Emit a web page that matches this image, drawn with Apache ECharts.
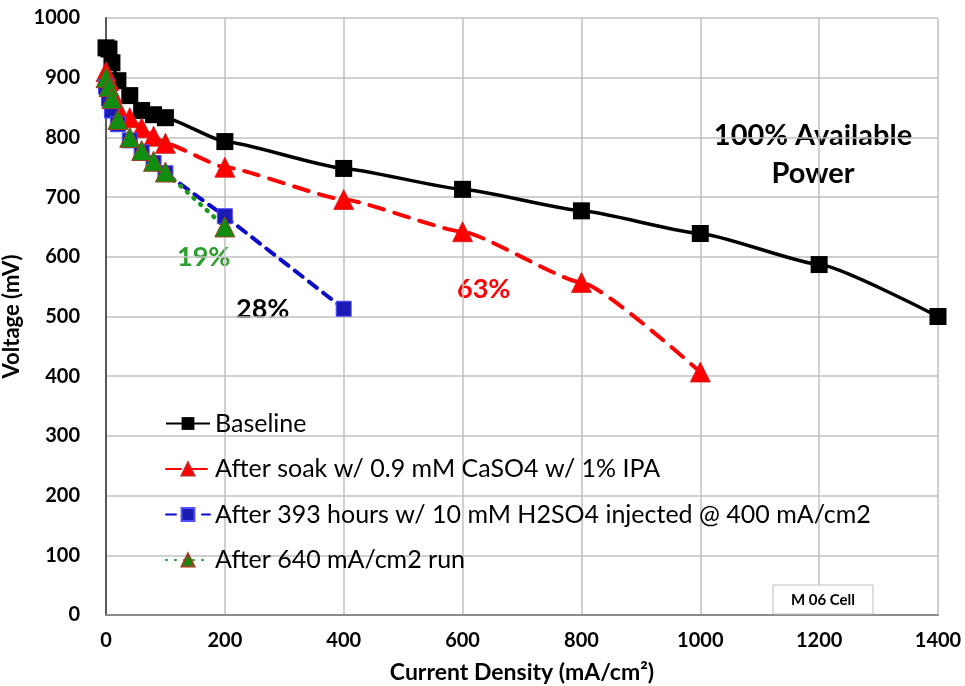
<!DOCTYPE html>
<html>
<head>
<meta charset="utf-8">
<script src="https://cdn.jsdelivr.net/npm/echarts@6/dist/echarts.min.js"></script>
<style>
html,body{margin:0;padding:0;background:#fff;}
#chart{width:965px;height:686px;}
</style>
</head>
<body>
<div id="chart"></div>
<script>
// ---- data ----
const seriesNames = [
  'Baseline',
  'After soak w/ 0.9 mM CaSO4 w/ 1% IPA',
  'After 393 hours w/ 10 mM H2SO4 injected @ 400 mA/cm2',
  'After 640 mA/cm2 run'
];
const baselineX = [0, 5, 10, 20, 40, 60, 80, 100, 200, 400, 600, 800, 1000, 1200, 1400];
const baselineY = [950, 948, 925, 895, 870, 845, 838, 833, 793, 748, 713, 677, 639, 587, 500];
const soakX = [0, 5, 10, 20, 40, 60, 80, 100, 200, 400, 600, 800, 1000];
const soakY = [910, 895, 875, 850, 833, 816, 802, 790, 750, 696, 642, 557, 407];
const h2so4X = [0, 5, 10, 20, 40, 60, 80, 100, 200, 400];
const h2so4Y = [885, 865, 845, 822, 795, 775, 757, 740, 668, 513];
const runX = [0, 5, 10, 20, 40, 60, 80, 100, 200];
const runY = [900, 885, 865, 830, 800, 778, 760, 742, 650];
const xTicks = [0, 200, 400, 600, 800, 1000, 1200, 1400];
const yTicks = [0, 100, 200, 300, 400, 500, 600, 700, 800, 900, 1000];
const annotations = [
  {text: '100% Available\nPower', color: '#000000'},
  {text: '19%', color: '#2e9e2e'},
  {text: '28%', color: '#000000'},
  {text: '63%', color: '#ff0000'}
];

const zip = (xs, ys) => xs.map((x, i) => [x, ys[i]]);
const FONT = 'Lato, "Open Sans", sans-serif';

const chart = echarts.init(document.getElementById('chart'), null, {renderer: 'canvas'});
const option = {
  backgroundColor: '#ffffff',
  animation: false,
  textStyle: {fontFamily: FONT},
  grid: {left: 106, right: 27, top: 18, bottom: 71, containLabel: false, outerBoundsMode: 'none'},
  xAxis: {
    type: 'value', min: xTicks[0], max: xTicks[xTicks.length - 1], interval: 200,
    name: 'Current Density (mA/cm²)', nameLocation: 'middle', nameGap: 46,
    nameTextStyle: {fontFamily: FONT, fontSize: 23, fontWeight: 'bold', color: '#000'},
    axisLine: {lineStyle: {color: '#8c8c8c', width: 2}},
    axisTick: {show: false},
    axisLabel: {fontFamily: FONT, fontSize: 20, fontWeight: 'bold', color: '#000', margin: 16,
      formatter: v => String(v)},
    splitLine: {show: true, lineStyle: {color: '#c0c0c0', width: 1.5}}
  },
  yAxis: {
    type: 'value', min: yTicks[0], max: yTicks[yTicks.length - 1], interval: 100,
    name: 'Voltage (mV)', nameLocation: 'middle', nameGap: 74, nameRotate: 90,
    nameTextStyle: {fontFamily: FONT, fontSize: 22, fontWeight: 'bold', color: '#000'},
    axisLine: {show: true, lineStyle: {color: '#595959', width: 2}},
    axisTick: {show: false},
    axisLabel: {fontFamily: FONT, fontSize: 20, fontWeight: 'bold', color: '#000', margin: 26,
      formatter: v => String(v)},
    splitLine: {show: true, lineStyle: {color: '#c0c0c0', width: 1.5}}
  },
  legend: {
    orient: 'vertical', left: 160, top: 406, itemGap: 20.5,
    itemWidth: 44, itemHeight: 16,
    textStyle: {fontFamily: FONT, fontSize: 25, color: '#000'},
    data: seriesNames
  },
  series: [
    {
      name: seriesNames[0], type: 'line', data: zip(baselineX, baselineY),
      smooth: 0.15, smoothMonotone: 'x',
      symbol: 'rect', symbolSize: 17,
      lineStyle: {color: '#000', width: 3.5},
      itemStyle: {color: '#000', borderColor: '#000', borderWidth: 0}
    },
    {
      name: seriesNames[1], type: 'line', data: zip(soakX, soakY),
      smooth: 0.15, smoothMonotone: 'x',
      symbol: 'triangle', symbolSize: 20,
      lineStyle: {color: '#ff0000', width: 4, type: [15, 11], cap: 'round'},
      itemStyle: {color: '#ff0000', borderColor: '#d02020', borderWidth: 0.8}
    },
    {
      name: seriesNames[2], type: 'line', data: zip(h2so4X, h2so4Y),
      smooth: false,
      symbol: 'rect', symbolSize: 15,
      lineStyle: {color: '#0a0ac8', width: 4, type: [10, 8], cap: 'round'},
      itemStyle: {color: '#1a1ab4', borderColor: '#5050ff', borderWidth: 1}
    },
    {
      name: seriesNames[3], type: 'line', data: zip(runX, runY),
      smooth: false,
      symbol: 'triangle', symbolSize: 20,
      lineStyle: {color: '#1e9a1e', width: 4.5, type: [1, 8], cap: 'round'},
      itemStyle: {color: '#108c10', borderColor: '#9a4020', borderWidth: 1}
    }
  ],
  graphic: [
    {type: 'text', x: 813, y: 117, style: {text: annotations[0].text, fill: annotations[0].color, font: 'bold 29px ' + FONT, align: 'center', verticalAlign: 'top', lineHeight: 38}},
    {type: 'text', x: 177, y: 244, style: {text: annotations[1].text, fill: annotations[1].color, font: 'bold 27px ' + FONT}},
    {type: 'text', x: 236, y: 296, style: {text: annotations[2].text, fill: annotations[2].color, font: 'bold 27px ' + FONT}},
    {type: 'text', x: 457, y: 276, style: {text: annotations[3].text, fill: annotations[3].color, font: 'bold 27px ' + FONT}},
    {type: 'rect', x: 773, y: 585, shape: {width: 100, height: 29}, style: {fill: '#fff', stroke: '#bdbdbd', lineWidth: 1}, z: 10},
    {type: 'text', x: 823, y: 600, style: {text: 'M 06 Cell', fill: '#000', font: 'bold 15px ' + FONT, align: 'center', verticalAlign: 'middle'}, z: 11}
  ]
};
chart.setOption(option);
</script>
</body>
</html>
